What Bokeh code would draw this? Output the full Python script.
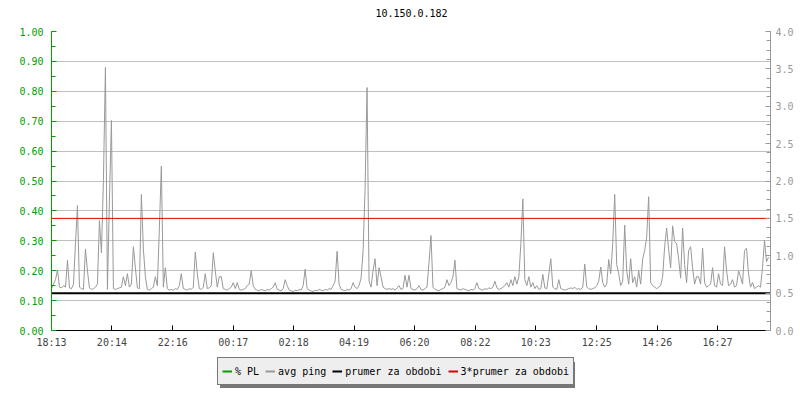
from bokeh.plotting import figure
from bokeh.layouts import column
from bokeh.models import (Range1d, LinearAxis, SingleIntervalTicker, FixedTicker,
                          NumeralTickFormatter, Legend, LegendItem, Label)
from bokeh.embed import file_html
from bokeh.resources import INLINE

# ---------------- data ----------------
title_text = "10.150.0.182"
time_labels = ["18:13", "20:14", "22:16", "00:17", "02:18", "04:19",
               "06:20", "08:22", "10:23", "12:25", "14:26", "16:27"]
sample_minutes = 4
span_minutes = 1440

# average ping (right axis), one sample every 4 minutes from 18:13
avg_ping = [
    0.56, 0.62, 0.68, 0.81, 0.58, 0.57, 0.60, 0.58, 0.94, 0.57, 0.56, 0.62, 1.16, 1.67, 0.58, 0.56, 0.55, 1.09, 0.80, 0.57,
    0.55, 0.56, 0.58, 0.62, 1.47, 1.04, 2.01, 3.52, 0.55, 1.73, 2.81, 0.56, 0.55, 0.56, 0.57, 0.58, 0.72, 0.60, 0.76, 0.58,
    0.62, 1.12, 0.84, 0.57, 0.56, 1.82, 1.09, 0.72, 0.55, 0.54, 0.56, 0.58, 0.72, 0.60, 1.36, 2.20, 0.58, 0.84, 0.56, 0.54,
    0.55, 0.54, 0.56, 0.55, 0.60, 0.76, 0.56, 0.55, 0.54, 0.56, 0.55, 0.58, 1.05, 0.76, 0.56, 0.55, 0.58, 0.76, 0.56, 0.57,
    0.60, 1.04, 0.80, 0.58, 0.72, 0.72, 0.56, 0.55, 0.54, 0.56, 0.58, 0.64, 0.56, 0.64, 0.55, 0.54, 0.55, 0.56, 0.60, 0.62,
    0.80, 0.60, 0.55, 0.54, 0.53, 0.55, 0.54, 0.53, 0.55, 0.54, 0.56, 0.58, 0.64, 0.55, 0.54, 0.53, 0.56, 0.68, 0.60, 0.54,
    0.53, 0.52, 0.54, 0.53, 0.55, 0.54, 0.60, 0.82, 0.56, 0.54, 0.53, 0.52, 0.54, 0.53, 0.55, 0.54, 0.53, 0.55, 0.54, 0.56,
    0.55, 0.60, 0.66, 1.06, 0.62, 0.55, 0.54, 0.53, 0.55, 0.54, 0.56, 0.64, 0.58, 0.56, 0.60, 0.70, 1.06, 1.89, 3.25, 0.66,
    0.58, 0.80, 0.96, 0.60, 0.84, 0.72, 0.58, 0.56, 0.55, 0.56, 0.55, 0.56, 0.54, 0.57, 0.60, 0.55, 0.56, 0.74, 0.58, 0.74,
    0.56, 0.55, 0.54, 0.56, 0.60, 0.55, 0.54, 0.56, 0.58, 0.90, 1.27, 0.58, 0.55, 0.54, 0.53, 0.55, 0.56, 0.58, 0.68, 0.60,
    0.64, 0.72, 0.94, 0.56, 0.55, 0.54, 0.56, 0.55, 0.54, 0.53, 0.55, 0.54, 0.56, 0.64, 0.56, 0.55, 0.54, 0.56, 0.55, 0.57,
    0.56, 0.58, 0.66, 0.57, 0.55, 0.56, 0.58, 0.60, 0.64, 0.58, 0.68, 0.60, 0.72, 0.62, 0.72, 1.16, 1.76, 0.68, 0.60, 0.72,
    0.58, 0.64, 0.56, 0.60, 0.55, 0.56, 0.75, 0.57, 0.56, 0.75, 0.96, 0.58, 0.56, 0.55, 0.68, 0.56, 0.55, 0.54, 0.55, 0.56,
    0.57, 0.56, 0.58, 0.55, 0.56, 0.55, 0.58, 0.89, 0.58, 0.56, 0.55, 0.56, 0.57, 0.60, 0.66, 0.85, 0.64, 0.58, 0.62, 0.95,
    0.76, 1.16, 1.82, 0.88, 0.76, 0.60, 0.66, 1.41, 0.80, 0.62, 0.96, 0.64, 0.72, 0.58, 0.80, 0.62, 0.96, 1.07, 1.25, 1.79,
    0.64, 0.60, 0.58, 0.56, 0.58, 0.60, 0.72, 1.12, 1.37, 1.08, 0.84, 1.40, 1.19, 1.16, 0.96, 0.70, 1.37, 0.88, 0.64, 1.07,
    1.12, 0.84, 0.62, 0.72, 0.72, 0.62, 1.10, 0.64, 0.58, 0.60, 0.62, 0.84, 0.60, 0.58, 0.76, 0.62, 0.60, 1.12, 0.80, 0.60,
    0.62, 0.68, 0.58, 0.60, 0.80, 0.72, 0.62, 1.07, 1.10, 0.76, 0.58, 0.64, 0.56, 0.58, 0.60, 0.58, 0.84, 1.21, 0.92, 0.98,
]
packet_loss_start_end = [0.0, 0.0]      # % PL (left axis), no loss in the period
mean_ping = 0.50                          # prumer za obdobi
triple_mean_ping = 1.50                   # 3*prumer za obdobi
series_names = ["% PL", "avg ping", "prumer za obdobi", "3*prumer za obdobi"]


def to_minutes(label):
    h, m = label.split(":")
    return int(h) * 60 + int(m)


start = to_minutes(time_labels[0])
tick_positions = [(to_minutes(l) - start) % 1440 for l in time_labels]
times = [i * sample_minutes for i in range(len(avg_ping))]
x_ends = [0, span_minutes]

FONT = "DejaVu Sans Mono"
GREEN = "#00a000"
GRAY = "#999999"
RED = "#e00000"


def bare_figure(w, h, xr=(0, 1)):
    f = figure(frame_width=w, frame_height=h, x_range=Range1d(*xr), y_range=Range1d(0, 1),
               output_backend="svg", toolbar_location=None,
               min_border_left=0, min_border_right=0, min_border_top=0, min_border_bottom=0,
               x_axis_type=None, y_axis_type=None)
    f.grid.visible = False
    f.outline_line_color = None
    f.background_fill_color = "white"
    f.border_fill_color = "white"
    return f


# ---------------- title strip ----------------
pt = bare_figure(800, 23)
pt.add_layout(Label(x=360, y=11, x_units="screen", y_units="screen", text=title_text,
                    text_align="center", text_baseline="middle", text_font=FONT,
                    text_font_size="10px", text_color="black"))

# ---------------- main chart ----------------
p = figure(frame_width=719, frame_height=299,
           x_range=Range1d(0, span_minutes), y_range=Range1d(0, 1),
           output_backend="svg", toolbar_location=None,
           min_border_left=51, min_border_right=30, min_border_top=8, min_border_bottom=22)
p.extra_y_ranges = {"ping": Range1d(0, 4)}
p.background_fill_color = "white"
p.border_fill_color = "white"
p.outline_line_color = None

p.xgrid.visible = False
p.ygrid.ticker = SingleIntervalTicker(interval=0.1, num_minor_ticks=2)
p.ygrid.grid_line_color = "#c0c0c0"
p.ygrid.grid_line_width = 1

ly = p.yaxis[0]
ly.ticker = SingleIntervalTicker(interval=0.1, num_minor_ticks=2)
ly.formatter = NumeralTickFormatter(format="0.00")
ly.axis_line_color = GREEN
ly.major_tick_line_color = GREEN
ly.minor_tick_line_color = GREEN
ly.major_label_text_color = GREEN
ly.major_tick_in = 5
ly.major_tick_out = 0
ly.minor_tick_in = 4
ly.minor_tick_out = 0
ly.major_label_standoff = 8

ry = LinearAxis(y_range_name="ping",
                ticker=SingleIntervalTicker(interval=0.5, num_minor_ticks=4),
                formatter=NumeralTickFormatter(format="0.0"))
ry.axis_line_color = GRAY
ry.major_tick_line_color = GRAY
ry.minor_tick_line_color = GRAY
ry.major_label_text_color = GRAY
ry.major_tick_in = 5
ry.major_tick_out = 0
ry.minor_tick_in = 4
ry.minor_tick_out = 0
ry.major_label_standoff = 5
p.add_layout(ry, "right")

bx = p.xaxis[0]
bx.ticker = FixedTicker(ticks=tick_positions)
bx.major_label_overrides = {t: l for t, l in zip(tick_positions, time_labels)}
bx.axis_line_color = "black"
bx.major_tick_line_color = "black"
bx.minor_tick_line_color = None
bx.major_tick_in = 5
bx.major_tick_out = 0
bx.major_label_standoff = 6

for a in [ly, ry, bx]:
    a.major_label_text_font = FONT
    a.major_label_text_font_size = "10px"

p.line(x_ends, packet_loss_start_end, line_color=GREEN, line_width=1)
p.line(times, avg_ping, line_color=GRAY, line_width=1, y_range_name="ping")
p.line(x_ends, [mean_ping, mean_ping], line_color="black", line_width=2, y_range_name="ping")
p.line(x_ends, [triple_mean_ping, triple_mean_ping], line_color=RED, line_width=1, y_range_name="ping")

# ---------------- legend strip ----------------
# same series drawn in a strip whose x range lies before the data, so only
# their legend entries are visible
pl = bare_figure(800, 48, xr=(-20, -10))
leg_pl = pl.line(x_ends, packet_loss_start_end, line_color=GREEN, line_width=2)
leg_ping = pl.line(times, avg_ping, line_color=GRAY, line_width=2)
leg_mean = pl.line(x_ends, [mean_ping, mean_ping], line_color="black", line_width=2)
leg_triple = pl.line(x_ends, [triple_mean_ping, triple_mean_ping], line_color=RED, line_width=2)
legend_renderers = [leg_pl, leg_ping, leg_mean, leg_triple]

shadow = Legend(items=[LegendItem(label=" ", renderers=[leg_ping])],
                location=(220, 12), orientation="horizontal",
                padding=0, margin=0, spacing=0, label_standoff=0,
                glyph_width=1, glyph_height=26, label_width=354, label_height=26,
                background_fill_color="#777777", background_fill_alpha=1.0,
                border_line_color=None, label_text_font_size="1px")
legend = Legend(items=[LegendItem(label=n, renderers=[r])
                       for n, r in zip(series_names, legend_renderers)],
                location=(217, 15), orientation="horizontal",
                padding=4, margin=0, spacing=6, label_standoff=3,
                glyph_width=10, glyph_height=18, label_height=18,
                label_text_font=FONT, label_text_font_size="10px", label_text_color="black",
                background_fill_color="#eeeeee", background_fill_alpha=1.0,
                border_line_color="black", border_line_width=1)
pl.add_layout(shadow, "center")
pl.add_layout(legend, "center")

layout = column(pt, p, pl, spacing=0)
open("out.html", "w").write(file_html(layout, INLINE))
